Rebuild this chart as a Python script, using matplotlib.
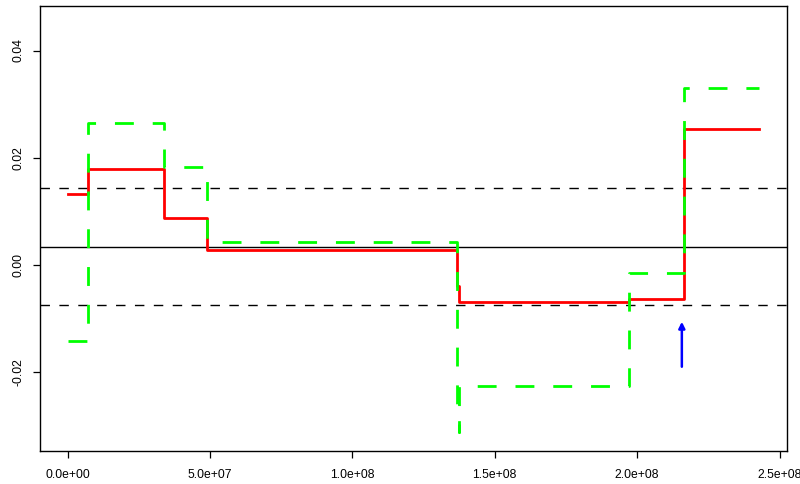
import matplotlib
matplotlib.use("Agg")
import matplotlib.pyplot as plt

plt.rcParams['font.family'] = ['Liberation Sans', 'DejaVu Sans']

# change points (bp) and segment means for the two series
red_x = [0, 0.703e7, 3.37e7, 4.88e7, 1.367e8, 1.376e8, 1.971e8, 2.165e8, 2.429e8]
red_y = [0.0133, 0.01785, 0.00883, 0.00286, -0.0040, -0.00684, -0.00634, 0.02537, 0.02537]

green_x = [0, 0.703e7, 3.37e7, 4.88e7, 1.367e8, 1.374e8, 1.376e8, 1.971e8, 2.165e8, 2.429e8]
green_y = [-0.01412, 0.02643, 0.01828, 0.00423, -0.0283, -0.0311, -0.0226, -0.00155, 0.03296, 0.03296]

# overall mean and +/- band
center = 0.00341
band = 0.0109

# marker arrow for the last break
arrow_x = 2.157e8
arrow_y0 = -0.01897
arrow_y1 = -0.01058

xticks = [0, 5e7, 1e8, 1.5e8, 2e8, 2.5e8]
xlabels = ['0.0e+00', '5.0e+07', '1.0e+08', '1.5e+08', '2.0e+08', '2.5e+08']
yticks = [-0.02, 0.00, 0.02, 0.04]
ylabels = ['-0.02', '0.00', '0.02', '0.04']

fig = plt.figure(figsize=(8, 4.84), dpi=100)
ax = fig.add_axes([0.05, 0.068, 0.934, 0.9196])

ax.axhline(center, color='black', lw=1.0)
ax.axhline(center + band, color='black', lw=1.0, linestyle=(0, (6.8, 6.8)))
ax.axhline(center - band, color='black', lw=1.0, linestyle=(0, (6.8, 6.8)))

ax.plot(red_x, red_y, drawstyle='steps-post', color='#ff0000', lw=2.0)
ax.plot(green_x, green_y, drawstyle='steps-post', color='#00ff00', lw=2.0,
        linestyle=(0, (6.8, 6.8)))

ax.annotate('', xy=(arrow_x, arrow_y1), xytext=(arrow_x, arrow_y0),
            arrowprops=dict(arrowstyle='-|>', color='#0000ff', lw=1.8,
                            mutation_scale=9, shrinkA=0, shrinkB=0))

ax.set_xlim(-0.97e7, 2.527e8)
ax.set_ylim(-0.0347, 0.0483)
ax.set_xticks(xticks)
ax.set_xticklabels(xlabels)
ax.set_yticks(yticks)
ax.set_yticklabels(ylabels, rotation=90, va='center')
ax.tick_params(axis='both', length=5, width=0.9, labelsize=8.7)
ax.tick_params(axis='x', pad=8)
ax.tick_params(axis='y', pad=6)
for s in ax.spines.values():
    s.set_linewidth(1.0)

fig.savefig('out.png', dpi=100)
